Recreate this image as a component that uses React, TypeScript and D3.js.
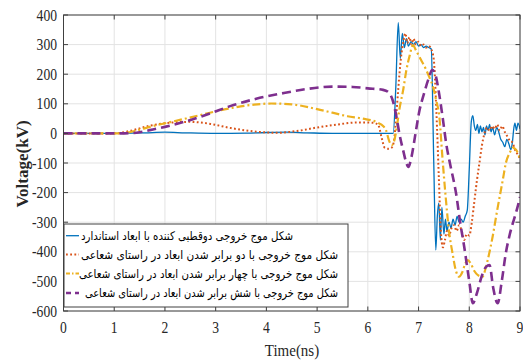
import React from 'react';
import * as d3 from 'd3';

const xTicks = [0, 1, 2, 3, 4, 5, 6, 7, 8, 9];
const yTicks = [400, 300, 200, 100, 0, -100, -200, -300, -400, -500, -600];
const xLabel = 'Time(ns)';
const yLabel = 'Voltage(kV)';

const legendLabels = [
  'شکل موج خروجی دوقطبی کننده با ابعاد استاندارد',
  'شکل موج خروجی با دو برابر شدن ابعاد در راستای شعاعی',
  'شکل موج خروجی با چهار برابر شدن ابعاد در راستای شعاعی',
  'شکل موج خروجی با شش برابر شدن ابعاد در راستای شعاعی',
];

const stdT = [0, 1, 1.6, 2, 2.4, 3, 3.6, 4, 4.4, 4.8, 5.3, 6, 6.4, 6.5, 6.55, 6.6, 6.64, 6.68, 6.72, 6.76, 6.8, 6.85, 6.9, 6.95, 7.0, 7.05, 7.1, 7.15, 7.2, 7.25, 7.3, 7.34, 7.37, 7.4, 7.43, 7.46, 7.5, 7.53, 7.56, 7.6, 7.64, 7.68, 7.72, 7.76, 7.8, 7.84, 7.88, 7.92, 7.96, 8.0, 8.04, 8.07, 8.1, 8.13, 8.16, 8.19, 8.22, 8.25, 8.28, 8.31, 8.34, 8.37, 8.4, 8.43, 8.46, 8.5, 8.54, 8.58, 8.62, 8.66, 8.7, 8.74, 8.78, 8.82, 8.85, 8.88, 8.9, 8.93, 8.96, 9.0];
const stdV = [0, 0, 2, 4, 2, 0, 1, 3, 4, 2, 0, 0, 0, 0, 150, 374, 253, 338, 290, 320, 295, 310, 300, 310, 295, 300, 290, 295, 290, 285, -100, -394, -280, -236, -360, -250, -340, -290, -330, -300, -320, -290, -310, -280, -300, -290, -300, -280, -260, -120, 40, 60, 25, 10, 30, 0, 25, 5, 20, -5, 25, 10, 30, 5, 20, -5, 20, 5, -20, -30, -45, -20, -35, -55, -30, 20, 35, 10, 35, 15];

const x2T = [0, 1, 1.3, 1.7, 2.1, 2.5, 2.9, 3.3, 3.8, 4.2, 4.6, 5.0, 5.4, 5.8, 6.1, 6.2, 6.28, 6.33, 6.4, 6.47, 6.52, 6.56, 6.6, 6.65, 6.7, 6.74, 6.78, 6.82, 6.86, 6.9, 6.95, 7.0, 7.05, 7.1, 7.15, 7.2, 7.25, 7.3, 7.35, 7.4, 7.44, 7.48, 7.52, 7.56, 7.6, 7.65, 7.7, 7.75, 7.8, 7.85, 7.9, 7.95, 8.0, 8.05, 8.1, 8.15, 8.2, 8.25, 8.3, 8.35, 8.4, 8.45, 8.5, 8.55, 8.6, 8.65, 8.7, 8.75, 8.8, 8.85, 8.9, 8.95, 9.0];
const x2V = [0, 0, 8, 26, 36, 39, 32, 18, 6, 2, 8, 20, 30, 37, 36, 30, -20, -48, -52, -48, -20, 60, 150, 250, 310, 338, 305, 325, 300, 320, 300, 310, 295, 300, 290, 295, 285, 250, 80, -150, -330, -385, -360, -330, -345, -320, -310, -330, -310, -330, -360, -340, -345, -300, -230, -160, -100, -40, 0, 20, 10, 25, 15, 30, 10, 25, 5, -10, -25, -30, -55, -70, -85];

const x4T = [0, 1.1, 1.4, 1.7, 2.2, 2.7, 3.2, 3.7, 4.1, 4.5, 5.0, 5.3, 5.6, 5.9, 6.2, 6.3, 6.36, 6.42, 6.47, 6.52, 6.57, 6.62, 6.7, 6.76, 6.82, 6.89, 6.95, 7.05, 7.15, 7.21, 7.28, 7.35, 7.41, 7.47, 7.54, 7.6, 7.67, 7.73, 7.8, 7.86, 7.92, 7.97, 8.03, 8.1, 8.17, 8.26, 8.33, 8.4, 8.46, 8.55, 8.66, 8.72, 8.8, 8.86, 8.92, 9.0];
const x4V = [0, 0, 8, 22, 42, 62, 82, 96, 101, 98, 82, 70, 58, 50, 36, 25, 10, -25, -40, -25, 20, 79, 150, 214, 260, 298, 280, 248, 215, 191, 160, 110, 56, -80, -225, -330, -405, -460, -484, -470, -440, -428, -440, -465, -479, -484, -450, -400, -349, -260, -158, -101, -65, -48, -55, -85];

const x6T = [0, 1.2, 1.5, 1.7, 2.0, 2.4, 2.9, 3.3, 3.8, 4.3, 4.8, 5.3, 5.7, 6.0, 6.3, 6.4, 6.49, 6.56, 6.62, 6.7, 6.76, 6.8, 6.86, 6.94, 7.02, 7.1, 7.2, 7.27, 7.33, 7.4, 7.47, 7.55, 7.63, 7.74, 7.82, 7.9, 8.0, 8.07, 8.15, 8.25, 8.33, 8.4, 8.47, 8.56, 8.64, 8.72, 8.8, 8.9, 8.95, 9.0];
const x6V = [0, 0, 4, 11, 22, 40, 68, 93, 117, 135, 150, 158, 157, 152, 147, 140, 112, 60, 1, -60, -100, -113, -80, 0, 79, 130, 186, 215, 200, 140, 60, -40, -110, -203, -300, -383, -500, -574, -540, -480, -451, -445, -520, -574, -500, -405, -340, -280, -250, -215];

const colors = ['#0072BD', '#D95319', '#EDB120', '#7E2F8E'];
const widths = [1.3, 2, 2.2, 2.6];
const dashes = ['none', '1.8,2.4', '8,3,2,3', '9,5'];

export default function App() {
  const W = 523, H = 363;
  const L = 63.5, R = 520, T = 15, B = 311;
  const x = d3.scaleLinear().domain([0, 9]).range([L, R]);
  const y = d3.scaleLinear().domain([-600, 400]).range([B, T]);
  const line = d3.line<[number, number]>().x(d => x(d[0])).y(d => y(d[1])).curveMonotoneX ? null : null;
  const gen = d3.line<[number, number]>().x(d => x(d[0])).y(d => y(d[1])).curve(d3.curveMonotoneX);
  const series: [number[], number[]][] = [[stdT, stdV], [x2T, x2V], [x4T, x4V], [x6T, x6V]];
  const paths = series.map(([t, v]) => gen(t.map((tt, i) => [tt, v[i]] as [number, number])) || '');
  const tickFont = 'Liberation Serif, Times New Roman, serif';
  const axisColor = '#404040';
  const legX0 = 64, legX1 = 348, legY0 = 224, legY1 = 307;
  const rowY = [235.7, 254.5, 273.5, 293];
  const textW = [212, 257, 259, 253];
  const textX = [81, 81, 79, 85];
  return (
    <svg width={W} height={H} style={{ position: 'absolute', left: 0, top: 0, background: '#fff' }}>
      <defs>
        <clipPath id="plotclip"><rect x={L} y={T} width={R - L} height={B - T} /></clipPath>
      </defs>
      <rect x={0} y={0} width={W} height={H} fill="#fff" />
      {/* grid */}
      {xTicks.map(t => (
        <line key={'gx' + t} x1={x(t)} x2={x(t)} y1={T} y2={B} stroke="#e3e3e3" strokeWidth={1} />
      ))}
      {yTicks.map(t => (
        <line key={'gy' + t} x1={L} x2={R} y1={y(t)} y2={y(t)} stroke="#e3e3e3" strokeWidth={1} />
      ))}
      {/* series */}
      <g clipPath="url(#plotclip)">
        {paths.map((d, i) => (
          <path key={'s' + i} d={d} fill="none" stroke={colors[i]} strokeWidth={widths[i]}
            strokeDasharray={dashes[i]} strokeLinejoin="round" />
        ))}
      </g>
      {/* axes box */}
      <rect x={L} y={T} width={R - L} height={B - T} fill="none" stroke={axisColor} strokeWidth={1} />
      {xTicks.map(t => (
        <g key={'tx' + t}>
          <line x1={x(t)} x2={x(t)} y1={B} y2={B - 4.5} stroke={axisColor} />
          <line x1={x(t)} x2={x(t)} y1={T} y2={T + 4.5} stroke={axisColor} />
          <text transform={`translate(${x(t)},${B + 22}) scale(0.85,1)`} textAnchor="middle"
            fontFamily={tickFont} fontSize={16} fill="#262626">{t}</text>
        </g>
      ))}
      {yTicks.map(t => (
        <g key={'ty' + t}>
          <line x1={L} x2={L + 4.5} y1={y(t)} y2={y(t)} stroke={axisColor} />
          <line x1={R} x2={R - 4.5} y1={y(t)} y2={y(t)} stroke={axisColor} />
          <text transform={`translate(57,${y(t) + 5.5}) scale(0.85,1)`} textAnchor="end"
            fontFamily={tickFont} fontSize={16} fill="#262626">{t}</text>
        </g>
      ))}
      <text transform={`translate(292,356) scale(0.88,1)`} textAnchor="middle" fontFamily={tickFont}
        fontSize={17} fill="#262626">{xLabel}</text>
      <text transform={`translate(28,164) rotate(-90)`} textAnchor="middle" fontFamily={tickFont}
        fontSize={17} fontWeight="bold" fill="#262626">{yLabel}</text>
      {/* legend */}
      <rect x={legX0} y={legY0} width={legX1 - legX0} height={legY1 - legY0} fill="#fff" stroke={axisColor} strokeWidth={1} />
      {legendLabels.map((lab, i) => (
        <g key={'lg' + i}>
          <line x1={66} x2={79} y1={rowY[i]} y2={rowY[i]} stroke={colors[i]} strokeWidth={widths[i]}
            strokeDasharray={i === 3 ? '5,4' : i === 2 ? '4,2,1.5,2' : dashes[i]} />
          <text x={textX[i]} y={rowY[i] + 4} fontFamily="DejaVu Sans" fontSize={12} fill="#000"
            textLength={textW[i]} lengthAdjust="spacingAndGlyphs">{lab}</text>
        </g>
      ))}
    </svg>
  );
}
